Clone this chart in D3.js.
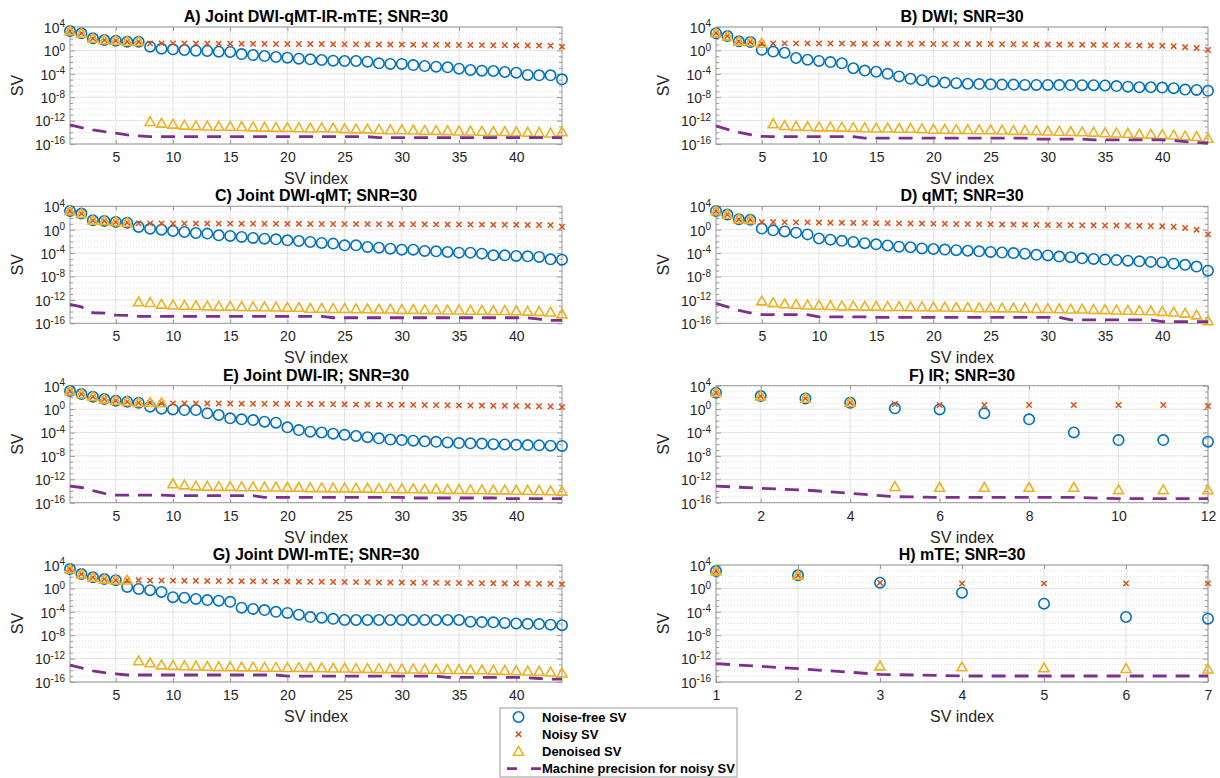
<!DOCTYPE html>
<html>
<head>
<meta charset="utf-8">
<script src="https://cdn.jsdelivr.net/npm/d3@7"></script>
<style>
  body { margin: 0; background: #fff; }
  svg { display: block; font-family: "Liberation Sans", Arial, Helvetica, sans-serif; }
</style>
</head>
<body>
<svg id="chart" width="1220" height="778"></svg>
<script>
// ---- Data: log10 of singular values, one entry per SV index ----
const titles = [
  "A) Joint DWI-qMT-IR-mTE; SNR=30", "B) DWI; SNR=30",
  "C) Joint DWI-qMT; SNR=30", "D) qMT; SNR=30",
  "E) Joint DWI-IR; SNR=30", "F) IR; SNR=30",
  "G) Joint DWI-mTE; SNR=30", "H) mTE; SNR=30"
];
const xTicks44 = [5, 10, 15, 20, 25, 30, 35, 40];
const xTicksIR = [2, 4, 6, 8, 10, 12];
const xTicksMTE = [1, 2, 3, 4, 5, 6, 7];
const yTickExponents = [4, 0, -4, -8, -12, -16];
const seriesNames = ["Noise-free SV", "Noisy SV", "Denoised SV", "Machine precision for noisy SV"];

const aNoiseFree = [3.32,2.92,2.06,1.78,1.66,1.49,1.49,0.64,0.30,0.18, 0.07,-0.05,-0.10,-0.22,-0.27,-0.62,-0.79,-0.96,-1.13,-1.24, -1.41,-1.53,-1.64,-1.75,-1.81,-1.81,-1.93,-2.21,-2.32,-2.32, -2.50,-2.67,-2.78,-2.90,-3.12,-3.35,-3.46,-3.52,-3.69,-3.81, -4.20,-4.26,-4.26,-4.95];
const aNoisy = [3.32,2.92,2.06,1.78,1.66,1.49,1.49,1.20,1.20,1.20, 1.18,1.18,1.18,1.15,1.15,1.15,1.12,1.12,1.10,1.10, 1.10,1.08,1.08,1.05,1.05,1.05,1.02,1.02,1.00,1.00, 0.98,0.98,0.95,0.95,0.92,0.92,0.90,0.88,0.88,0.85, 0.85,0.82,0.80,0.64];
const aDenoised = [3.32,2.92,2.06,1.78,1.66,1.49,1.49,-12.18,-12.47,-12.64, -12.80,-12.90,-12.95,-13.00,-13.00,-13.05,-13.10,-13.15,-13.20,-13.20, -13.25,-13.30,-13.25,-13.30,-13.40,-13.45,-13.45,-13.55,-13.60,-13.60, -13.65,-13.70,-13.70,-13.75,-13.80,-13.80,-13.85,-13.90,-13.90,-13.95, -14.00,-14.05,-14.15,-13.95];
const aMachine = [-12.75,-13.20,-13.60,-13.90,-14.15,-14.45,-14.60,-14.75,-14.75,-14.75, -14.75,-14.75,-14.75,-14.75,-14.75,-14.75,-14.75,-14.75,-14.75,-14.75, -14.75,-14.75,-14.75,-14.75,-14.75,-14.75,-14.75,-14.90,-14.90,-14.90, -14.90,-14.90,-14.90,-14.90,-14.90,-14.90,-14.90,-14.90,-14.90,-14.90, -14.90,-14.90,-14.90,-14.90];

const bNoiseFree = [2.95,2.45,1.55,1.45,0.10,-0.20,-0.40,-1.30,-1.60,-1.80, -2.00,-2.20,-3.05,-3.45,-3.65,-4.00,-4.45,-4.85,-5.10,-5.30, -5.50,-5.60,-5.70,-5.75,-5.80,-5.85,-5.85,-5.90,-5.90,-5.90, -5.92,-5.92,-5.95,-5.95,-6.00,-6.10,-6.20,-6.30,-6.30,-6.35, -6.45,-6.70,-6.75,-6.90];
const bNoisy = [2.95,2.45,1.55,1.45,1.20,1.20,1.20,1.20,1.20,1.18, 1.18,1.18,1.15,1.15,1.15,1.15,1.12,1.12,1.12,1.10, 1.10,1.10,1.08,1.08,1.08,1.05,1.05,1.05,1.02,1.02, 1.00,1.00,0.98,0.95,0.92,0.90,0.88,0.85,0.82,0.78, 0.72,0.55,0.40,0.07];
const bDenoised = [2.95,2.45,1.55,1.45,1.20,-12.58,-12.87,-13.00,-13.05,-13.10, -13.10,-13.15,-13.20,-13.25,-13.30,-13.30,-13.35,-13.35,-13.40,-13.50, -13.50,-13.55,-13.55,-13.60,-13.60,-13.65,-13.70,-13.70,-13.75,-13.80, -13.85,-13.90,-13.95,-14.00,-14.10,-14.15,-14.20,-14.30,-14.35,-14.40, -14.50,-14.65,-14.75,-15.05];
const bMachine = [-12.90,-13.50,-14.00,-14.40,-14.70,-14.75,-14.75,-14.75,-14.75,-14.75, -14.75,-14.75,-14.75,-15.00,-15.00,-15.00,-15.00,-15.00,-15.00,-15.00, -15.00,-15.00,-15.00,-15.00,-15.00,-15.00,-15.00,-15.00,-15.15,-15.15, -15.15,-15.15,-15.15,-15.30,-15.30,-15.30,-15.30,-15.30,-15.30,-15.30, -15.40,-15.60,-15.75,-15.80];

const cNoiseFree = [3.20,2.75,1.60,1.50,1.32,1.20,0.47,0.18,0.01,-0.22, -0.39,-0.56,-0.67,-0.96,-1.07,-1.24,-1.41,-1.53,-1.64,-1.81, -1.93,-2.10,-2.27,-2.38,-2.67,-2.67,-2.95,-3.07,-3.24,-3.41, -3.41,-3.63,-3.69,-3.81,-3.92,-3.92,-4.09,-4.38,-4.38,-4.49, -4.55,-4.66,-5.06,-5.12];
const cNoisy = [3.20,2.75,1.60,1.50,1.32,1.20,1.10,1.08,1.08,1.06, 1.06,1.05,1.05,1.04,1.04,1.03,1.02,1.02,1.01,1.00, 1.00,0.99,0.98,0.98,0.97,0.96,0.96,0.95,0.94,0.94, 0.93,0.92,0.91,0.90,0.89,0.88,0.87,0.86,0.85,0.83, 0.82,0.80,0.78,0.50];
const cDenoised = [3.20,2.75,1.60,1.50,1.32,1.20,-12.35,-12.47,-12.75,-12.90, -12.95,-13.00,-13.05,-13.10,-13.10,-13.15,-13.20,-13.20,-13.25,-13.30, -13.30,-13.45,-13.45,-13.50,-13.50,-13.55,-13.55,-13.60,-13.60,-13.65, -13.65,-13.70,-13.70,-13.75,-13.75,-13.80,-13.80,-13.85,-13.85,-13.90, -13.95,-14.00,-14.10,-14.45];
const cMachine = [-12.75,-13.20,-14.20,-14.25,-14.60,-14.65,-14.80,-14.80,-14.80,-14.80, -14.80,-14.80,-14.80,-14.80,-14.80,-14.80,-14.80,-14.80,-14.80,-14.80, -14.80,-14.80,-14.80,-15.05,-15.05,-15.05,-15.05,-15.05,-15.05,-15.05, -15.05,-15.05,-15.05,-15.05,-15.05,-15.05,-15.05,-15.05,-15.05,-15.05, -15.05,-15.30,-15.50,-15.50];

const dNoiseFree = [3.20,2.60,1.80,1.70,0.20,-0.10,-0.30,-0.50,-0.80,-1.50, -1.70,-1.90,-2.10,-2.30,-2.50,-2.70,-2.90,-3.00,-3.20,-3.30, -3.40,-3.50,-3.60,-3.70,-3.80,-3.90,-4.00,-4.10,-4.30,-4.40, -4.60,-4.70,-4.90,-5.00,-5.10,-5.20,-5.30,-5.40,-5.50,-5.60, -5.80,-6.00,-6.30,-7.00];
const dNoisy = [3.20,2.60,1.80,1.70,1.30,1.30,1.28,1.25,1.25,1.22, 1.20,1.18,1.16,1.15,1.12,1.10,1.08,1.06,1.05,1.02, 1.00,0.98,0.97,0.95,0.92,0.90,0.88,0.86,0.85,0.82, 0.80,0.78,0.76,0.75,0.72,0.70,0.68,0.66,0.64,0.60, 0.50,0.30,0.00,-0.80];
const dDenoised = [3.20,2.60,1.80,1.70,-12.20,-12.50,-12.70,-12.80,-12.90,-12.95, -13.00,-13.05,-13.05,-13.10,-13.10,-13.15,-13.15,-13.20,-13.20,-13.25, -13.25,-13.30,-13.30,-13.35,-13.35,-13.40,-13.40,-13.45,-13.50,-13.50, -13.55,-13.60,-13.60,-13.65,-13.70,-13.75,-13.80,-13.85,-13.90,-14.00, -14.10,-14.30,-14.60,-15.60];
const dMachine = [-12.60,-13.20,-13.80,-14.20,-14.50,-14.50,-14.50,-14.50,-14.50,-14.90, -14.90,-14.90,-14.90,-14.90,-15.00,-15.00,-15.00,-15.00,-15.00,-15.00, -15.00,-15.00,-15.00,-15.00,-15.00,-15.00,-15.00,-15.00,-15.00,-15.00, -15.00,-15.40,-15.40,-15.40,-15.40,-15.40,-15.40,-15.40,-15.40,-15.70, -15.70,-15.70,-15.70,-15.70];

const eNoiseFree = [3.09,2.58,2.12,1.72,1.44,1.26,1.09,0.41,0.07,-0.05, -0.16,-0.16,-0.73,-1.01,-1.58,-1.75,-1.87,-2.15,-2.32,-3.12, -3.58,-3.86,-4.00,-4.20,-4.40,-4.60,-4.80,-5.00,-5.20,-5.30, -5.40,-5.50,-5.60,-5.70,-5.80,-5.85,-5.90,-6.00,-6.05,-6.10, -6.15,-6.20,-6.25,-6.30];
const eNoisy = [3.09,2.58,2.12,1.72,1.44,1.26,1.09,1.09,1.05,0.98, 0.98,0.97,0.96,0.95,0.94,0.93,0.92,0.91,0.90,0.88, 0.87,0.86,0.85,0.83,0.82,0.80,0.78,0.77,0.75,0.73, 0.72,0.70,0.68,0.66,0.64,0.62,0.60,0.58,0.56,0.54, 0.52,0.48,0.45,0.35];
const eDenoised = [3.09,2.58,2.12,1.72,1.44,1.26,1.09,1.09,1.05,-12.80, -12.98,-13.15,-13.20,-13.25,-13.25,-13.30,-13.30,-13.35,-13.35,-13.40, -13.40,-13.45,-13.45,-13.50,-13.50,-13.55,-13.55,-13.60,-13.60,-13.65, -13.65,-13.70,-13.70,-13.75,-13.75,-13.80,-13.80,-13.85,-13.85,-13.90, -13.90,-13.95,-14.00,-14.05];
const eMachine = [-13.15,-13.40,-13.95,-14.40,-14.70,-14.70,-14.70,-14.70,-14.70,-14.80, -14.80,-14.80,-14.80,-14.80,-14.80,-14.80,-14.80,-15.10,-15.10,-15.10, -15.10,-15.10,-15.10,-15.10,-15.10,-15.10,-15.10,-15.10,-15.10,-15.10, -15.20,-15.20,-15.20,-15.20,-15.20,-15.20,-15.20,-15.20,-15.30,-15.30, -15.30,-15.30,-15.30,-15.30];

const fNoiseFree = [2.80,2.23,1.83,1.10,0.13,-0.05,-0.73,-1.75,-3.98,-5.29,-5.29,-5.57];
const fNoisy = [2.80,2.23,1.83,1.10,0.87,0.70,0.70,0.70,0.70,0.70,0.70,0.52];
const fDenoised = [2.80,2.23,1.83,1.10,-13.26,-13.40,-13.40,-13.40,-13.40,-13.80,-13.80,-13.80];
const fMachine = [-13.15,-13.55,-13.84,-14.40,-14.97,-15.09,-15.09,-15.09,-15.09,-15.30,-15.30,-15.30];

const gNoiseFree = [3.30,2.45,1.90,1.60,1.40,0.25,-0.10,-0.30,-0.60,-1.50, -1.60,-1.80,-2.00,-2.10,-2.30,-3.30,-3.50,-3.70,-4.00,-4.20, -4.50,-4.90,-5.00,-5.20,-5.40,-5.40,-5.40,-5.40,-5.40,-5.40, -5.40,-5.40,-5.40,-5.40,-5.40,-5.70,-5.75,-5.80,-5.90,-6.00, -6.05,-6.10,-6.20,-6.30];
const gNoisy = [3.30,2.45,1.90,1.60,1.40,1.40,1.38,1.36,1.35,1.33, 1.32,1.30,1.28,1.27,1.25,1.23,1.22,1.20,1.18,1.17, 1.15,1.13,1.12,1.10,1.08,1.07,1.05,1.03,1.02,1.00, 0.98,0.97,0.95,0.93,0.92,0.90,0.88,0.87,0.85,0.83, 0.82,0.80,0.78,0.70];
const gDenoised = [3.30,2.45,1.90,1.60,1.40,1.40,-12.40,-12.75,-13.10,-13.20, -13.25,-13.30,-13.35,-13.40,-13.40,-13.45,-13.45,-13.50,-13.50,-13.55, -13.55,-13.60,-13.60,-13.65,-13.65,-13.70,-13.70,-13.75,-13.75,-13.80, -13.80,-13.85,-13.85,-13.90,-13.90,-13.95,-13.95,-14.00,-14.05,-14.10, -14.15,-14.20,-14.30,-14.50];
const gMachine = [-13.10,-13.60,-14.10,-14.40,-14.60,-14.80,-14.80,-14.80,-14.80,-14.80, -14.80,-14.80,-14.80,-14.80,-14.80,-14.80,-14.80,-14.80,-14.80,-15.00, -15.00,-15.00,-15.00,-15.00,-15.00,-15.00,-15.00,-15.00,-15.00,-15.00, -15.00,-15.00,-15.00,-15.20,-15.20,-15.20,-15.20,-15.20,-15.20,-15.20, -15.30,-15.40,-15.50,-15.50];

const hNoiseFree = [2.97,2.23,0.98,-0.73,-2.61,-4.89,-5.17];
const hNoisy = [2.97,2.23,0.98,0.86,0.86,0.86,0.86];
const hDenoised = [2.97,2.23,-13.27,-13.44,-13.60,-13.72,-13.80];
const hMachine = [-12.86,-13.72,-14.69,-14.97,-14.97,-14.97,-14.97];

const panels = [
  { title: titles[0], xTicks: xTicks44, series: [aNoiseFree, aNoisy, aDenoised, aMachine] },
  { title: titles[1], xTicks: xTicks44, series: [bNoiseFree, bNoisy, bDenoised, bMachine] },
  { title: titles[2], xTicks: xTicks44, series: [cNoiseFree, cNoisy, cDenoised, cMachine] },
  { title: titles[3], xTicks: xTicks44, series: [dNoiseFree, dNoisy, dDenoised, dMachine] },
  { title: titles[4], xTicks: xTicks44, series: [eNoiseFree, eNoisy, eDenoised, eMachine] },
  { title: titles[5], xTicks: xTicksIR, series: [fNoiseFree, fNoisy, fDenoised, fMachine] },
  { title: titles[6], xTicks: xTicks44, series: [gNoiseFree, gNoisy, gDenoised, gMachine] },
  { title: titles[7], xTicks: xTicksMTE, series: [hNoiseFree, hNoisy, hDenoised, hMachine] }
];

// ---- Layout & style ----
const colLeft = [70, 716];
const rowTop = [27, 206.3, 385.7, 565];
const plotW = 492, plotH = 117;
const colors = ["#0072BD", "#D95319", "#EDB120", "#7E2F8E"];
const textColor = "#262626";
const boxColor = "#999999";

const svg = d3.select("#chart");

const markerPaths = {
  cross: "M-2.7,-2.7L2.7,2.7M2.7,-2.7L-2.7,2.7",
  triangle: "M0,-5L5,3.8L-5,3.8Z"
};

function drawMarker(sel, kind, color) {
  if (kind === 0) {
    sel.append("circle").attr("r", 5.2).attr("fill", "none")
      .attr("stroke", color).attr("stroke-width", 1.6);
  } else if (kind === 1) {
    sel.append("path").attr("d", markerPaths.cross).attr("fill", "none")
      .attr("stroke", color).attr("stroke-width", 1.5);
  } else {
    sel.append("path").attr("d", markerPaths.triangle).attr("fill", "none")
      .attr("stroke", color).attr("stroke-width", 1.6).attr("stroke-linejoin", "miter");
  }
}

panels.forEach((p, k) => {
  const left = colLeft[k % 2];
  const top = rowTop[Math.floor(k / 2)];
  const n = p.series[0].length;
  const x = d3.scaleLinear().domain([1, n]).range([left, left + plotW]);
  const y = d3.scaleLog().domain([1e-16, 1e4]).range([top + plotH, top]);
  const g = svg.append("g");

  const allDecades = d3.range(-16, 5).map(e => Math.pow(10, e));
  const majorVals = yTickExponents.map(e => Math.pow(10, e));
  const minorVals = allDecades.filter(v => !majorVals.some(m => Math.abs(Math.log10(m) - Math.log10(v)) < 1e-9));

  // grid: dotted minor decades, solid major decades and x ticks
  g.append("g").selectAll("line").data(minorVals).join("line")
    .attr("x1", left).attr("x2", left + plotW)
    .attr("y1", d => y(d)).attr("y2", d => y(d))
    .attr("stroke", "#d4d4d4").attr("stroke-width", 0.8).attr("stroke-dasharray", "1,2");
  g.append("g").selectAll("line").data(majorVals).join("line")
    .attr("x1", left).attr("x2", left + plotW)
    .attr("y1", d => y(d)).attr("y2", d => y(d))
    .attr("stroke", "#e3e3e3").attr("stroke-width", 1);
  g.append("g").selectAll("line").data(p.xTicks).join("line")
    .attr("x1", d => x(d)).attr("x2", d => x(d))
    .attr("y1", top).attr("y2", top + plotH)
    .attr("stroke", "#e3e3e3").attr("stroke-width", 1);

  // box
  g.append("rect").attr("x", left).attr("y", top).attr("width", plotW).attr("height", plotH)
    .attr("fill", "none").attr("stroke", boxColor).attr("stroke-width", 1);

  // axes
  const xAxis = g.append("g").attr("transform", `translate(0,${top + plotH})`)
    .call(d3.axisBottom(x).tickValues(p.xTicks).tickSize(-4).tickPadding(8).tickFormat(d3.format("d")));
  xAxis.select(".domain").remove();
  xAxis.selectAll(".tick line").attr("stroke", boxColor);
  xAxis.selectAll(".tick text").attr("fill", textColor).attr("font-size", 14)
    .attr("font-family", "Liberation Sans, Arial, sans-serif");

  const xAxisTop = g.append("g").attr("transform", `translate(0,${top})`)
    .call(d3.axisTop(x).tickValues(p.xTicks).tickSize(-4).tickFormat(""));
  xAxisTop.select(".domain").remove();
  xAxisTop.selectAll(".tick line").attr("stroke", boxColor);

  [["left", d3.axisLeft, left], ["right", d3.axisRight, left + plotW]].forEach(([side, axisFn, pos]) => {
    const minorAx = g.append("g").attr("transform", `translate(${pos},0)`)
      .call(axisFn(y).tickValues(minorVals).tickSize(-3).tickFormat(""));
    minorAx.select(".domain").remove();
    minorAx.selectAll(".tick line").attr("stroke", boxColor);
    const majorAx = g.append("g").attr("transform", `translate(${pos},0)`)
      .call(axisFn(y).tickValues(majorVals).tickSize(-5).tickPadding(5).tickFormat(""));
    majorAx.select(".domain").remove();
    majorAx.selectAll(".tick line").attr("stroke", boxColor);
    if (side === "left") {
      majorAx.selectAll(".tick text").each(function (d) {
        const t = d3.select(this).attr("fill", textColor).attr("font-size", 14)
          .attr("font-family", "Liberation Sans, Arial, sans-serif")
          .attr("dy", "0.38em").attr("x", -5);
        t.append("tspan").text("10");
        t.append("tspan").attr("dy", "-0.55em").attr("font-size", 10)
          .text(String(Math.round(Math.log10(d))));
      });
    }
  });

  // labels
  g.append("text").attr("x", left + plotW / 2).attr("y", top - 5)
    .attr("text-anchor", "middle").attr("font-weight", "bold").attr("font-size", 16)
    .attr("fill", "#000").text(p.title);
  g.append("text").attr("x", left + plotW / 2).attr("y", top + plotH + 40)
    .attr("text-anchor", "middle").attr("font-size", 16).attr("fill", textColor).text("SV index");
  g.append("text").attr("transform", `translate(${left - 47},${top + plotH / 2}) rotate(-90)`)
    .attr("text-anchor", "middle").attr("font-size", 16).attr("fill", textColor).text("SV");

  // marks: noise-free circles, noisy crosses, denoised triangles, machine-precision line
  [0, 1, 2].forEach(s => {
    const pts = p.series[s].map((v, i) => ({ i: i + 1, v: Math.pow(10, v) }));
    g.append("g").selectAll("g").data(pts).join("g")
      .attr("transform", d => `translate(${x(d.i)},${y(d.v)})`)
      .each(function () { drawMarker(d3.select(this), s, colors[s]); });
  });
  const linePts = p.series[3].map((v, i) => ({ i: i + 1, v: Math.pow(10, v) }));
  g.append("path").datum(linePts)
    .attr("d", d3.line().x(d => x(d.i)).y(d => y(d.v)))
    .attr("fill", "none").attr("stroke", colors[3]).attr("stroke-width", 2.8)
    .attr("stroke-dasharray", "14,9");
});

// ---- Legend ----
const lg = svg.append("g");
lg.append("rect").attr("x", 500).attr("y", 708).attr("width", 237).attr("height", 69)
  .attr("fill", "#fff").attr("stroke", "#999999").attr("stroke-width", 1);
seriesNames.forEach((name, s) => {
  const cy = 717 + s * 17.2;
  if (s < 3) {
    const m = lg.append("g").attr("transform", `translate(518.5,${cy})`);
    drawMarker(m, s, colors[s]);
  } else {
    lg.append("line").attr("x1", 507).attr("x2", 541).attr("y1", cy).attr("y2", cy)
      .attr("stroke", colors[3]).attr("stroke-width", 2.8).attr("stroke-dasharray", "10,14");
  }
  lg.append("text").attr("x", 542).attr("y", cy + 4.5).attr("font-size", 13)
    .attr("font-weight", "bold").attr("fill", "#000").text(name);
});
</script>
</body>
</html>
